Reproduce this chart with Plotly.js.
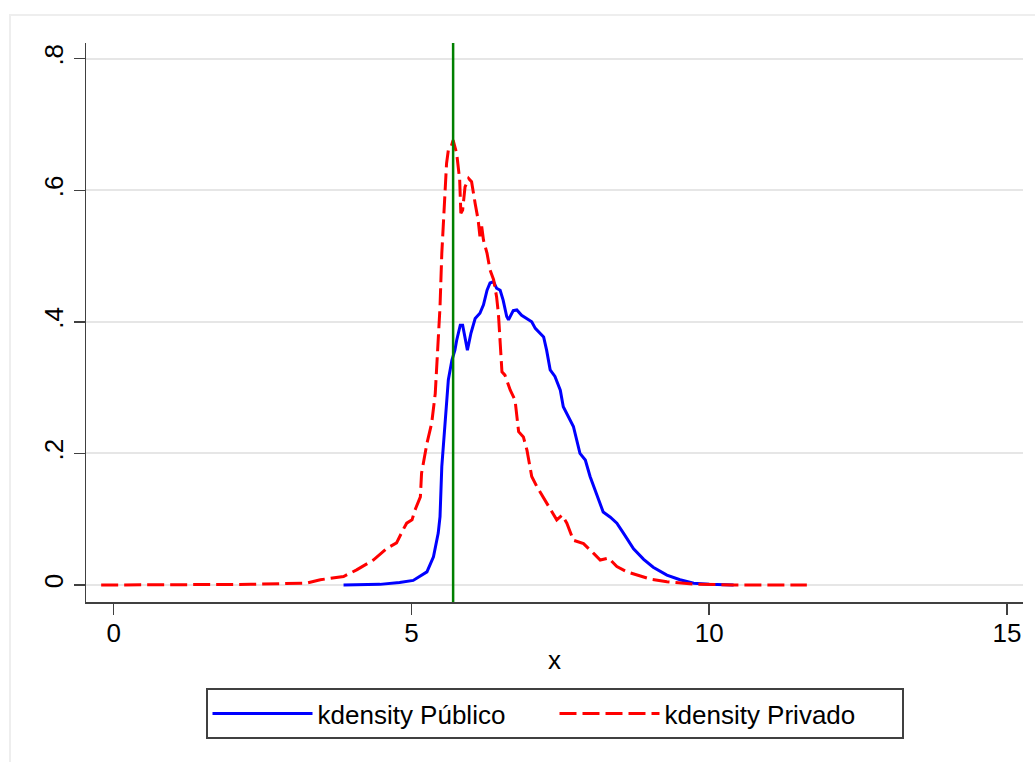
<!DOCTYPE html>
<html>
<head>
<meta charset="utf-8">
<script src="https://cdn.plot.ly/plotly-3.0.1.min.js"></script>
<style>
  html, body { margin: 0; padding: 0; background: #ffffff; overflow: hidden; }
  #frame { position: absolute; left: 9px; top: 14px; width: 2000px; height: 2000px;
           border: 2px solid #eeeeee; box-sizing: border-box; }
  #chart { position: absolute; left: 0; top: 0; width: 1035px; height: 762px; }
</style>
</head>
<body>
<div id="frame"></div>
<div id="chart"></div>
<script>
// Público (solid blue)
const pubX = [3.86, 4.47, 4.80, 5.03, 5.26, 5.37, 5.45, 5.48, 5.51, 5.57, 5.62, 5.68, 5.73, 5.76, 5.82, 5.86, 5.94, 6.00, 6.07, 6.15, 6.21, 6.27, 6.32, 6.38, 6.43, 6.49, 6.54, 6.60, 6.63, 6.71, 6.77, 6.85, 6.94, 7.02, 7.08, 7.16, 7.22, 7.27, 7.33, 7.41, 7.50, 7.55, 7.64, 7.72, 7.83, 7.92, 8.00, 8.11, 8.22, 8.34, 8.45, 8.56, 8.73, 8.90, 9.06, 9.29, 9.51, 9.74, 10.0, 10.41];
const pubY = [0.0, 0.001, 0.004, 0.007, 0.020, 0.043, 0.079, 0.104, 0.18, 0.256, 0.312, 0.342, 0.357, 0.372, 0.395, 0.395, 0.357, 0.383, 0.405, 0.413, 0.426, 0.448, 0.459, 0.461, 0.451, 0.448, 0.433, 0.408, 0.403, 0.417, 0.418, 0.41, 0.405, 0.40, 0.39, 0.383, 0.377, 0.357, 0.327, 0.317, 0.296, 0.271, 0.256, 0.241, 0.20, 0.19, 0.165, 0.139, 0.111, 0.103, 0.094, 0.079, 0.055, 0.039, 0.027, 0.015, 0.008, 0.0026, 0.001, 0.0];

// Privado (dashed red)
const privX = [-0.21, 1.0, 1.7, 2.3, 2.8, 3.24, 3.47, 3.74, 3.86, 4.08, 4.36, 4.59, 4.75, 4.86, 4.92, 5.01, 5.06, 5.15, 5.17, 5.26, 5.34, 5.40, 5.44, 5.48, 5.51, 5.54, 5.59, 5.62, 5.66, 5.70, 5.76, 5.81, 5.83, 5.86, 5.90, 5.96, 6.01, 6.07, 6.12, 6.15, 6.18, 6.21, 6.27, 6.32, 6.38, 6.43, 6.46, 6.52, 6.57, 6.66, 6.74, 6.80, 6.88, 6.94, 7.02, 7.11, 7.22, 7.33, 7.44, 7.53, 7.61, 7.72, 7.89, 8.06, 8.17, 8.31, 8.45, 8.62, 8.79, 9.01, 9.29, 9.74, 10.41, 11.64];
const privY = [0, 0, 0.001, 0.001, 0.002, 0.003, 0.008, 0.011, 0.013, 0.023, 0.038, 0.056, 0.064, 0.084, 0.094, 0.099, 0.114, 0.134, 0.17, 0.215, 0.246, 0.291, 0.357, 0.423, 0.504, 0.555, 0.641, 0.661, 0.664, 0.676, 0.656, 0.616, 0.565, 0.57, 0.605, 0.618, 0.613, 0.58, 0.555, 0.53, 0.545, 0.524, 0.504, 0.479, 0.464, 0.438, 0.413, 0.324, 0.319, 0.296, 0.281, 0.233, 0.225, 0.205, 0.165, 0.149, 0.132, 0.117, 0.099, 0.106, 0.094, 0.068, 0.063, 0.048, 0.038, 0.041, 0.028, 0.020, 0.015, 0.009, 0.005, 0.0015, 0.0, 0.0];

const seriesNames = ["kdensity Público", "kdensity Privado"];
const refLineX = 5.7;

const xTicks = [0, 5, 10, 15];
const xTickText = ["0", "5", "10", "15"];
const yTicks = [0, 0.2, 0.4, 0.6, 0.8];
const yTickText = ["0", ".2", ".4", ".6", ".8"];

const FONT = "Arial, 'Liberation Sans', sans-serif";
const FS = 26;

const traces = [
  { x: pubX, y: pubY, name: seriesNames[0], type: "scatter", mode: "lines",
    line: { color: "#0000ff", width: 3 } },
  { x: privX, y: privY, name: seriesNames[1], type: "scatter", mode: "lines",
    line: { color: "#ff0000", width: 3, dash: "17px,6px" } }
];

const layout = {
  width: 1035, height: 762,
  paper_bgcolor: "rgba(0,0,0,0)", plot_bgcolor: "rgba(0,0,0,0)",
  margin: { l: 86, r: 12, t: 43, b: 160 },
  font: { family: FONT, size: FS, color: "#000000" },
  showlegend: true,
  legend: {
    orientation: "h", x: 0.5, xanchor: "center", y: -0.154, yanchor: "top",
    bgcolor: "#ffffff", bordercolor: "#404040", borderwidth: 2,
    font: { family: FONT, size: FS, color: "#000000" },
    itemwidth: 100, entrywidth: 232, traceorder: "normal"
  },
  xaxis: {
    range: [-0.465, 15.27], tickvals: xTicks, ticktext: xTickText,
    ticks: "outside", ticklen: 11, tickwidth: 1.5, tickcolor: "#404040",
    showline: true, linecolor: "#404040", linewidth: 1.5,
    showgrid: false, zeroline: false, ticklabelstandoff: -4,
    tickfont: { family: FONT, size: FS },
    title: { text: "x", font: { family: FONT, size: FS }, standoff: 4 }
  },
  yaxis: {
    range: [-0.0258, 0.8238], tickvals: yTicks, ticktext: yTickText,
    tickangle: -90,
    ticks: "outside", ticklen: 11, tickwidth: 1.5, tickcolor: "#404040",
    showline: true, linecolor: "#404040", linewidth: 1.5,
    showgrid: true, gridcolor: "#e6e6e6", gridwidth: 2, zeroline: false,
    tickfont: { family: FONT, size: FS }
  },
  shapes: [
    { type: "line", xref: "x", yref: "paper", x0: refLineX, x1: refLineX, y0: 0, y1: 1,
      line: { color: "#008000", width: 2.5 } }
  ]
};

Plotly.newPlot("chart", traces, layout, { displayModeBar: false, staticPlot: true });
</script>
</body>
</html>
